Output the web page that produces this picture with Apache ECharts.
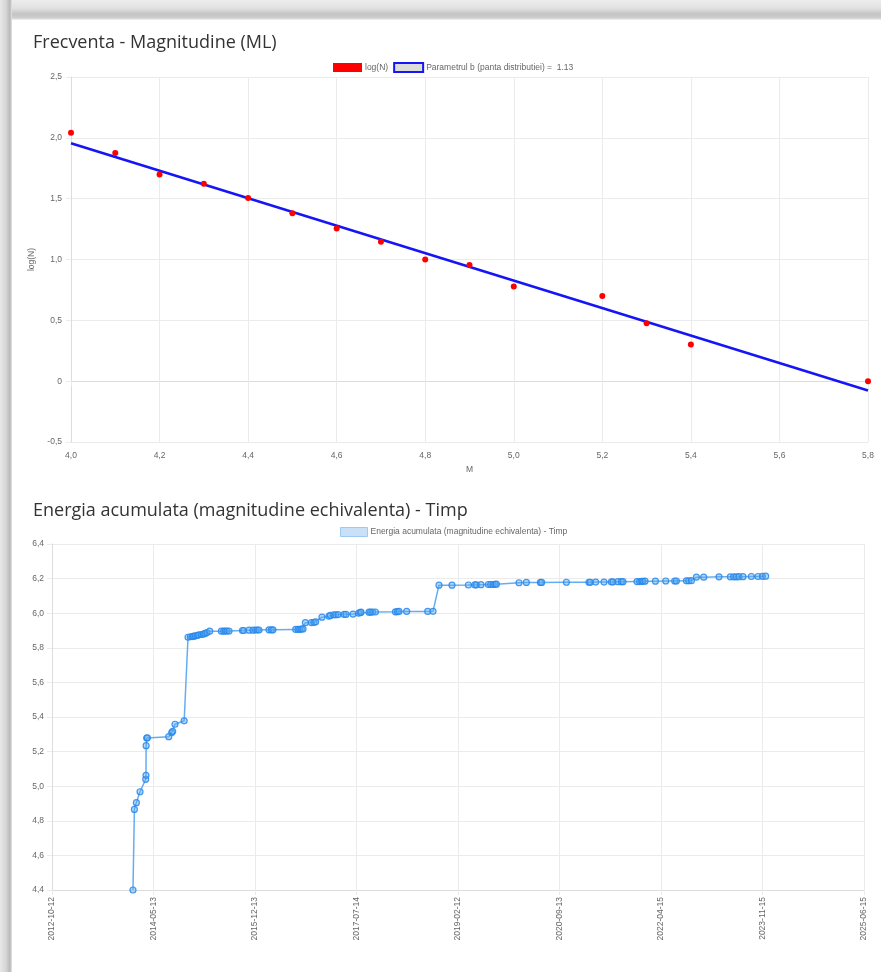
<!DOCTYPE html>
<html>
<head>
<meta charset="utf-8">
<script src="https://cdn.jsdelivr.net/npm/echarts@6/dist/echarts.min.js"></script>
<style>
  html, body { margin: 0; padding: 0; width: 881px; height: 972px; overflow: hidden; background: #e4e4e4; }
  #topband { position: absolute; left: 0; top: 0; width: 881px; height: 20px;
    background: linear-gradient(to bottom, #ececec 0px, #e2e2e2 8px, #c4c4c4 14px, #cfcfcf 18px, #f4f4f4 20px); }
  #leftband { position: absolute; left: 0; top: 0; width: 12px; height: 972px;
    background: linear-gradient(to right, #e8e8e8 0px, #d6d6d6 6px, #b8b8b8 10px, #e6e6e6 12px); }
  #card { position: absolute; left: 12px; top: 20px; width: 869px; height: 952px; background: #fff; }
  #chart { position: absolute; left: 0; top: 0; width: 881px; height: 972px; }
</style>
</head>
<body>
<div id="topband"></div>
<div id="leftband"></div>
<div id="card"></div>
<div id="chart"></div>
<script>
// ---- Chart 1: Frecventa - Magnitudine ----
const magnitudes = [4.0, 4.1, 4.2, 4.3, 4.4, 4.5, 4.6, 4.7, 4.8, 4.9, 5.0, 5.2, 5.3, 5.4, 5.8];
const logN       = [2.041, 1.875, 1.699, 1.623, 1.505, 1.380, 1.255, 1.146, 1.000, 0.954, 0.778, 0.699, 0.477, 0.301, 0.000];
const fitM       = [4.0, 5.8];
const fitLogN    = [1.955, -0.077];
const bValueText = 'Parametrul b (panta distributiei) =  1.13';

// ---- Chart 2: Energia acumulata - Timp (decimal years) ----
const eventYears = [
  2014.043, 2014.065, 2014.096, 2014.153, 2014.242, 2014.246, 2014.248, 2014.257, 2014.268,
  2014.601, 2014.647, 2014.663, 2014.699, 2014.842,
  2014.902, 2014.939, 2014.970, 2014.991, 2015.017, 2015.048, 2015.069, 2015.111, 2015.142, 2015.167, 2015.198, 2015.240,
  2015.423, 2015.459, 2015.485, 2015.510, 2015.542,
  2015.751, 2015.771, 2015.854, 2015.916, 2015.958, 2015.985, 2016.010,
  2016.166, 2016.203, 2016.228,
  2016.583, 2016.619, 2016.645, 2016.672, 2016.697,
  2016.734, 2016.828, 2016.868, 2016.895, 2016.993,
  2017.102, 2017.124, 2017.176, 2017.207, 2017.243, 2017.337, 2017.368, 2017.477,
  2017.566, 2017.593, 2017.602, 2017.727, 2017.753, 2017.785, 2017.827,
  2018.139, 2018.170, 2018.195, 2018.315, 2018.643, 2018.726,
  2018.819, 2019.022, 2019.278, 2019.377, 2019.403, 2019.475, 2019.590, 2019.626, 2019.662, 2019.693, 2019.715,
  2020.068, 2020.183, 2020.402, 2020.422, 2020.808,
  2021.160, 2021.182, 2021.265, 2021.395, 2021.510, 2021.535, 2021.613, 2021.666, 2021.691,
  2021.910, 2021.952, 2021.983, 2022.003, 2022.035, 2022.197, 2022.358, 2022.498, 2022.525, 2022.681, 2022.717, 2022.759,
  2022.837, 2022.951, 2023.190, 2023.367, 2023.419, 2023.461, 2023.502, 2023.564, 2023.695, 2023.798, 2023.867, 2023.918
];
const energyMag = [
  4.400, 4.866, 4.905, 4.968, 5.040, 5.063, 5.234, 5.278, 5.280,
  5.286, 5.310, 5.317, 5.358, 5.378,
  5.861, 5.864, 5.865, 5.867, 5.869, 5.871, 5.875, 5.877, 5.879, 5.883, 5.888, 5.896,
  5.896, 5.896, 5.897, 5.897, 5.897,
  5.900, 5.900, 5.902, 5.902, 5.903, 5.903, 5.903,
  5.904, 5.904, 5.904,
  5.906, 5.906, 5.907, 5.908, 5.909,
  5.945, 5.946, 5.947, 5.950, 5.977,
  5.983, 5.987, 5.991, 5.991, 5.992, 5.993, 5.993, 5.995,
  6.000, 6.004, 6.006, 6.006, 6.006, 6.007, 6.007,
  6.008, 6.009, 6.010, 6.010, 6.010, 6.011,
  6.162, 6.162, 6.163, 6.164, 6.164, 6.165, 6.166, 6.166, 6.166, 6.167, 6.168,
  6.176, 6.178, 6.178, 6.178, 6.179,
  6.179, 6.179, 6.180, 6.180, 6.181, 6.181, 6.182, 6.182, 6.182,
  6.183, 6.183, 6.184, 6.184, 6.185, 6.185, 6.186, 6.186, 6.186, 6.187, 6.187, 6.188,
  6.208, 6.208, 6.210, 6.210, 6.210, 6.210, 6.211, 6.211, 6.212, 6.212, 6.213, 6.214
];
const timeTickLabels = ['2012-10-12', '2014-05-13', '2015-12-13', '2017-07-14', '2019-02-12',
                        '2020-09-13', '2022-04-15', '2023-11-15', '2025-06-15'];
const timeMin = 2012.779;
const timeMax = 2025.453;

const fitData = fitM.map((m, i) => [m, fitLogN[i]]);
const scatterData = magnitudes.map((m, i) => [m, logN[i]]);
const energyData = eventYears.map((t, i) => [t, energyMag[i]]);
const timeInterval = (timeMax - timeMin) / (timeTickLabels.length - 1);

const labelColor = '#666';
const gridColor = '#ebebeb';
const axisColor = '#dcdcdc';
const fontFam = '"Liberation Sans", Arial, sans-serif';
const comma = v => (Math.abs(v) < 1e-9 ? '0' : v.toFixed(1).replace('.', ','));

const chart = echarts.init(document.getElementById('chart'), null, { renderer: 'canvas' });
chart.setOption({
  backgroundColor: 'transparent',
  animation: false,
  textStyle: { fontFamily: fontFam },
  title: [
    { text: 'Frecventa - Magnitudine (ML)', left: 28, top: 29,
      textStyle: { fontFamily: '"Open Sans", sans-serif', fontSize: 18, fontWeight: 'normal', color: '#333' } },
    { text: 'Energia acumulata (magnitudine echivalenta) - Timp', left: 28, top: 497,
      textStyle: { fontFamily: '"Open Sans", sans-serif', fontSize: 18, fontWeight: 'normal', color: '#333' } }
  ],
  legend: [
    { left: 328, top: 57, itemWidth: 29, itemHeight: 9, itemGap: 5, selectedMode: false,
      textStyle: { fontSize: 8.5, color: labelColor, fontFamily: fontFam, padding: [0, 0, 0, -2] },
      data: [
        { name: 'log(N)', icon: 'rect', itemStyle: { color: '#ff0000', borderWidth: 0 } },
        { name: bValueText, icon: 'rect', itemStyle: { color: '#dcdcdc', borderColor: '#1515f5', borderWidth: 2 } }
      ] },
    { left: 335, top: 522, itemWidth: 27, itemHeight: 9, selectedMode: false,
      textStyle: { fontSize: 8.5, color: labelColor, fontFamily: fontFam, padding: [0, 0, 0, -2] },
      data: [
        { name: 'Energia acumulata (magnitudine echivalenta) - Timp', icon: 'rect',
          itemStyle: { color: '#c9e1f8', borderColor: '#9ccaf2', borderWidth: 1 } }
      ] }
  ],
  grid: [
    { left: 71, right: 13, top: 77, height: 365, containLabel: false },
    { left: 52, right: 17, top: 544, height: 346, containLabel: false }
  ],
  xAxis: [
    { gridIndex: 0, type: 'value', min: 4.0, max: 5.8, interval: 0.2,
      name: 'M', nameLocation: 'middle', nameGap: 23,
      nameTextStyle: { fontSize: 8.5, color: labelColor },
      axisLine: { show: true, lineStyle: { color: axisColor } },
      axisTick: { show: true, length: 5, lineStyle: { color: gridColor } },
      splitLine: { show: true, lineStyle: { color: gridColor } },
      axisLabel: { fontSize: 8.5, color: labelColor, margin: 9, formatter: comma } },
    { gridIndex: 1, type: 'value', min: timeMin, max: timeMax, interval: timeInterval,
      axisLine: { show: true, lineStyle: { color: axisColor } },
      axisTick: { show: true, length: 5, lineStyle: { color: gridColor } },
      splitLine: { show: true, lineStyle: { color: gridColor } },
      axisLabel: { fontSize: 8.5, color: labelColor, margin: 7, rotate: 90,
        formatter: v => timeTickLabels[Math.round((v - timeMin) / timeInterval)] || '' } }
  ],
  yAxis: [
    { gridIndex: 0, type: 'value', min: -0.5, max: 2.5, interval: 0.5,
      name: 'log(N)', nameLocation: 'middle', nameGap: 26, nameRotate: 90,
      nameTextStyle: { fontSize: 8.5, color: labelColor },
      axisLine: { show: true, lineStyle: { color: axisColor } },
      axisTick: { show: true, length: 5, lineStyle: { color: gridColor } },
      splitLine: { show: true, lineStyle: { color: gridColor } },
      axisLabel: { fontSize: 8.5, color: labelColor, margin: 9, formatter: comma } },
    { gridIndex: 1, type: 'value', min: 4.4, max: 6.4, interval: 0.2,
      axisLine: { show: true, lineStyle: { color: axisColor } },
      axisTick: { show: true, length: 5, lineStyle: { color: gridColor } },
      splitLine: { show: true, lineStyle: { color: gridColor } },
      axisLabel: { fontSize: 8.5, color: labelColor, margin: 8, formatter: comma } }
  ],
  series: [
    { name: bValueText, type: 'line', xAxisIndex: 0, yAxisIndex: 0, data: fitData,
      showSymbol: false, symbol: 'none', lineStyle: { color: '#1515f5', width: 2.5 }, z: 2 },
    { name: 'log(N)', type: 'scatter', xAxisIndex: 0, yAxisIndex: 0, data: scatterData,
      symbol: 'circle', symbolSize: 6, itemStyle: { color: '#ff0000', opacity: 1 }, z: 3 },
    { name: 'Energia acumulata (magnitudine echivalenta) - Timp', type: 'line', xAxisIndex: 1, yAxisIndex: 1,
      data: energyData, symbol: 'circle', symbolSize: 6, showSymbol: true, showAllSymbol: true,
      lineStyle: { color: 'rgba(70,160,240,0.85)', width: 1.5 },
      itemStyle: { color: 'rgba(90,170,240,0.45)', borderColor: 'rgba(40,135,235,0.85)', borderWidth: 1.2 } }
  ]
});
</script>
</body>
</html>
